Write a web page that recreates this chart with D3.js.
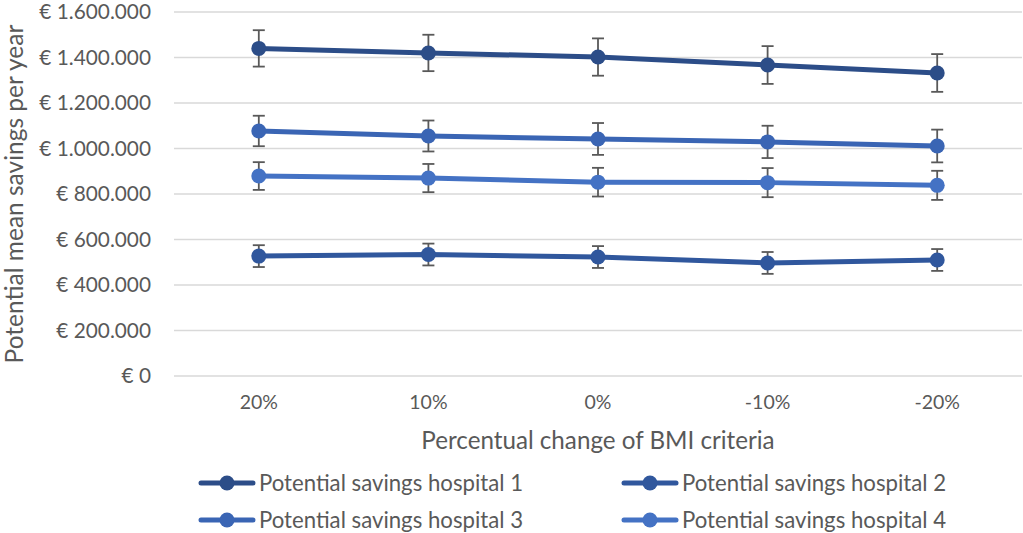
<!DOCTYPE html>
<html><head><meta charset="utf-8">
<script src="https://cdn.jsdelivr.net/npm/d3@7"></script>
<style>body{margin:0;background:#fff}svg{display:block}text{font-family:Lato,"Open Sans",sans-serif;fill:#595959}</style>
</head><body><svg id="c" width="1023" height="533"></svg>
<script>
const categories = ["20%","10%","0%","-10%","-20%"];
const seriesNames = ["Potential savings hospital 1","Potential savings hospital 2","Potential savings hospital 3","Potential savings hospital 4"];
const h1 = [1440000,1420000,1402000,1367000,1332000];
const h2 = [527000,534000,523000,497000,510000];
const h3 = [1077000,1055000,1042000,1029000,1011000];
const h4 = [879000,870000,852000,850000,838000];
const e1 = [80000,80000,82000,83000,83000];
const e2 = [48000,48000,48000,48000,48000];
const e3 = [67000,68000,70000,71000,72000];
const e4 = [61000,62000,63000,64000,64000];
const yTicks = [0,200000,400000,600000,800000,1000000,1200000,1400000,1600000];
const colors = ["#2C4D88","#30579D","#3A65B4","#4472C4"];

const series = [h1,h2,h3,h4].map((v,i)=>({name:seriesNames[i],values:v,err:[e1,e2,e3,e4][i],color:colors[i]}));
const svg = d3.select("#c");
const x = d3.scaleBand().domain(categories).range([174,1022]);
const y = d3.scaleLinear().domain([0,1600000]).range([376,12]);
const fmt = v => "€ " + d3.format(",")(v).replace(/,/g,".");

svg.append("g").selectAll("line").data(yTicks).join("line")
  .attr("x1",174).attr("x2",1022).attr("y1",d=>y(d)).attr("y2",d=>y(d))
  .attr("stroke","#d9d9d9").attr("stroke-width",1.5);

const ya = svg.append("g").attr("transform","translate(151,0)")
  .call(d3.axisLeft(y).tickValues(yTicks).tickFormat(fmt).tickSize(0).tickPadding(0));
ya.select(".domain").remove();
ya.selectAll("text").attr("font-size",20.8).attr("fill","#595959").style("font-family","Lato,'Open Sans',sans-serif");

const xa = svg.append("g").attr("transform","translate(0,395)")
  .call(d3.axisBottom(x).tickSize(0).tickPadding(0));
xa.select(".domain").remove();
xa.selectAll("text").attr("font-size",19.5).attr("fill","#595959").style("font-family","Lato,'Open Sans',sans-serif");

svg.append("text").attr("transform","translate(23,194) rotate(-90)").attr("text-anchor","middle")
  .attr("font-size",24.5).text("Potential mean savings per year");
svg.append("text").attr("x",598).attr("y",449).attr("text-anchor","middle")
  .attr("font-size",24.2).text("Percentual change of BMI criteria");

const cx = d => x(d) + x.bandwidth()/2;
const line = d3.line().x((d,i)=>cx(categories[i])).y(d=>y(d));

series.forEach(s=>{
  const g = svg.append("g");
  g.append("path").attr("d",line(s.values)).attr("fill","none").attr("stroke",s.color).attr("stroke-width",5).attr("stroke-linejoin","round");
  const eb = g.append("g").attr("stroke","#595959").attr("stroke-width",1.8);
  s.values.forEach((v,i)=>{
    const X = cx(categories[i]);
    eb.append("line").attr("x1",X).attr("x2",X).attr("y1",y(v+s.err[i])).attr("y2",y(v-s.err[i]));
    eb.append("line").attr("x1",X-6).attr("x2",X+6).attr("y1",y(v+s.err[i])).attr("y2",y(v+s.err[i]));
    eb.append("line").attr("x1",X-6).attr("x2",X+6).attr("y1",y(v-s.err[i])).attr("y2",y(v-s.err[i]));
  });
  g.selectAll("circle").data(s.values).join("circle")
    .attr("cx",(d,i)=>cx(categories[i])).attr("cy",d=>y(d)).attr("r",7.5).attr("fill",s.color);
});

const legPos = [[199,483],[622,483],[199,520],[622,520]];
series.forEach((s,i)=>{
  const [lx,ly] = legPos[i];
  const g = svg.append("g");
  g.append("line").attr("x1",lx+2).attr("x2",lx+54).attr("y1",ly).attr("y2",ly).attr("stroke",s.color).attr("stroke-width",5).attr("stroke-linecap","round");
  g.append("circle").attr("cx",lx+28).attr("cy",ly).attr("r",7.5).attr("fill",s.color);
  g.append("text").attr("x",lx+60).attr("y",ly+7.5).attr("font-size",22.2).text(s.name);
});
</script></body></html>
